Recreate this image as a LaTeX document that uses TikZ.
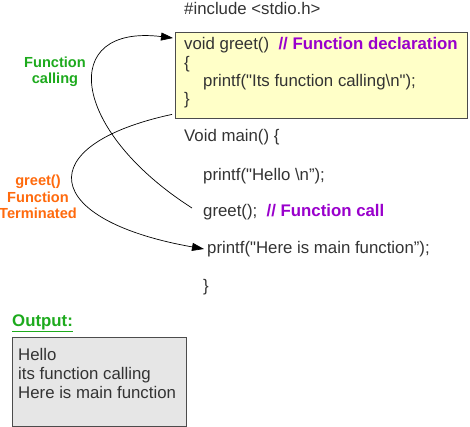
\documentclass[tikz,border=0pt]{standalone}
\usepackage{fontspec}
\setmainfont{Liberation Sans}
\usetikzlibrary{arrows.meta, calc}

\definecolor{codegray}{HTML}{333333}
\definecolor{notepurple}{HTML}{9900CC}
\definecolor{callgreen}{HTML}{1DAA1D}
\definecolor{endorange}{HTML}{FF6A0D}
\definecolor{declyellow}{HTML}{FFFFC8}
\definecolor{outgray}{HTML}{E6E6E6}

\begin{document}
\begin{tikzpicture}[x=1pt, y=-1pt,
    code/.style={anchor=west, inner sep=0pt, font=\fontsize{16.8}{19}\selectfont, text=codegray},
    flowlabel/.style={align=center, inner sep=0pt, font=\fontsize{14.6}{16.5}\selectfont\bfseries},
    codebox/.style={draw=black!70, anchor=north west, inner sep=0pt},
    flow/.style={-{Triangle[length=12pt, width=8pt]}, line width=0.7pt, black},
]
\useasboundingbox (0,0) rectangle (470,427);

% declaration box and output box
\node[codebox, fill=declyellow, minimum width=292pt, minimum height=86pt] (decl) at (175,32) {};
\node[codebox, fill=outgray, minimum width=174pt, minimum height=89pt] (outbox) at (12,337) {};

% program text
\node[code] (incl) at (184,8) {\#include <stdio.h>};
\node[code] (greetdef) at (184,45) {void greet()\ \ {\color{notepurple}\bfseries // Function declaration}};
\node[code] (open1) at (184,64) {\{};
\node[code] (print1) at (203,82) {printf(\textquotedbl Its function calling\textbackslash n\textquotedbl);};
\node[code] (close1) at (184,100) {\}};
\node[code] (mainline) at (184,137) {Void main() \{};
\node[code] (hello) at (203,176) {printf(\textquotedbl Hello \textbackslash n”);};
\node[code] (greetcall) at (203,212) {greet();\ \ {\color{notepurple}\bfseries // Function call}};
\node[code] (mainprint) at (207,249) {printf(\textquotedbl Here is main function”);};
\node[code] (close2) at (203,287) {\}};

% side labels
\node[flowlabel, text=callgreen] (calllbl) at (55,72) {Function\\calling};
\node[flowlabel, text=endorange] (endlbl) at (38,197) {greet()\\Function\\Terminated};

% output
\node[code, text=callgreen, font=\fontsize{16.8}{19}\selectfont\bfseries] (outlbl) at (12,323) {\underline{Output:}};
\node[code, align=left, anchor=north west] (outtext) at (18,348) {Hello\\its function calling\\Here is main function};

% flow of control
\coordinate (callstart) at ($(greetcall.west)+(-11,-4)$);
\coordinate (callend) at ($(decl.north west)+(-2,6)$);
\coordinate (retstart) at ($(decl.south west)+(-3,-4)$);
\coordinate (retend) at ($(mainprint.west)+(-3,0)$);
\draw[flow] (callstart) .. controls (70,130) and (58,24) .. (callend);
\draw[flow] (retstart) .. controls (30,145) and (40,220) .. (retend);

\end{tikzpicture}
\end{document}
